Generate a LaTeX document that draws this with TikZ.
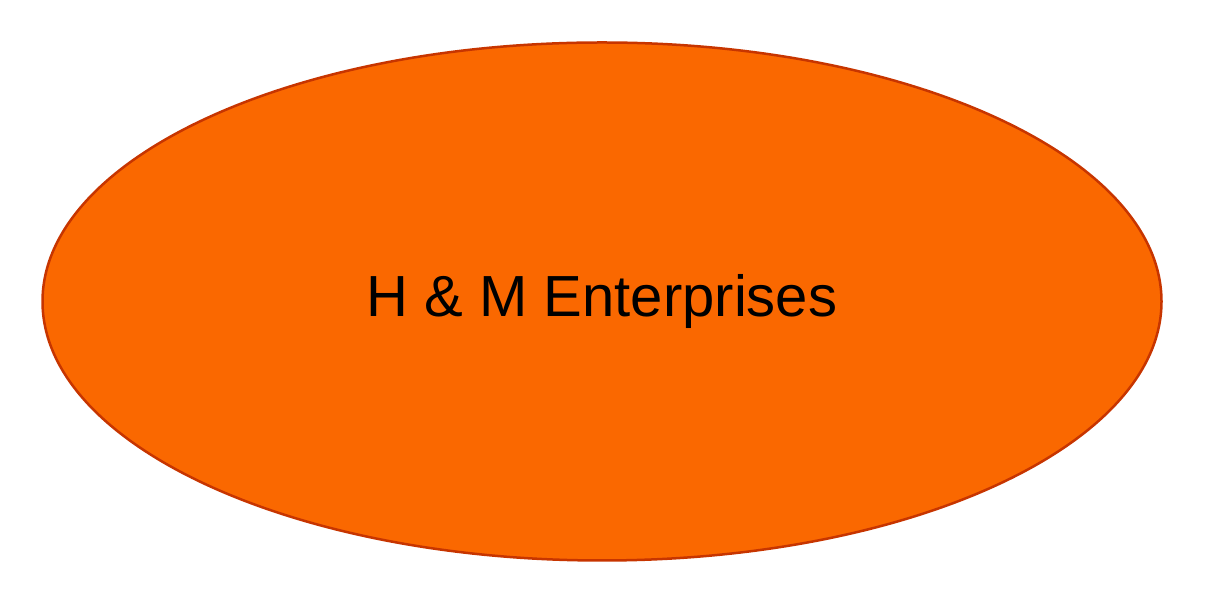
\documentclass[tikz,border=0pt]{standalone}
\usepackage{fontspec}
\setmainfont{Liberation Sans}
\usetikzlibrary{shapes.geometric,positioning}
\definecolor{hmorange}{HTML}{FA6800}
\definecolor{hmedge}{HTML}{C73500}
\begin{document}
\begin{tikzpicture}[x=1pt, y=1pt]
\tikzstyle{company}=[ellipse, fill=hmorange, draw=hmedge, line width=2.5pt, text=black,
  minimum width=1119pt, minimum height=518pt, inner sep=0pt,
  font=\fontsize{58}{68}\selectfont]
\useasboundingbox (0,0) rectangle (1208,604);
\node[company] (HM) at (602,302.5) {H \& M Enterprises};
\end{tikzpicture}
\end{document}
